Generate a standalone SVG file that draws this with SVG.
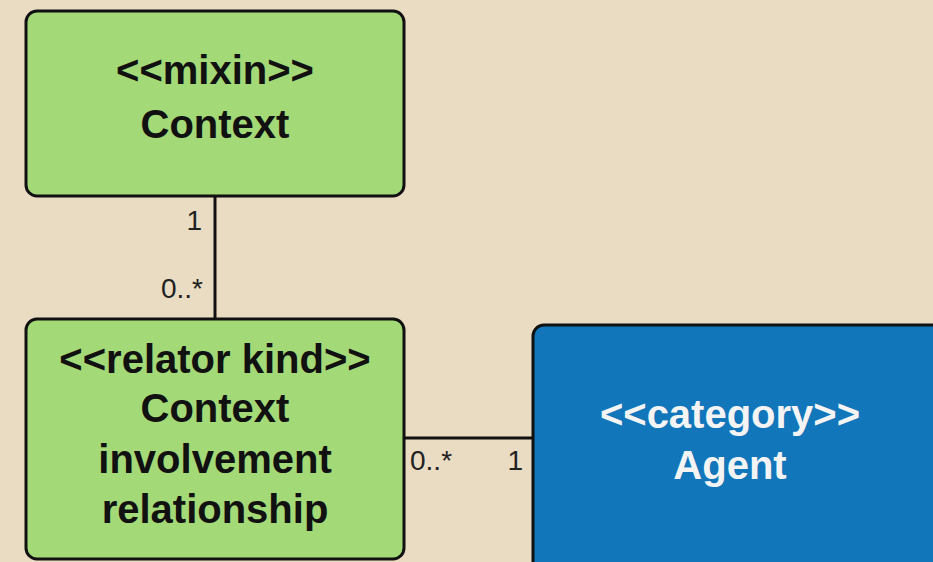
<svg xmlns="http://www.w3.org/2000/svg" width="933" height="562" viewBox="0 0 933 562">
<style>
.box{stroke:#111;stroke-width:3}
.green{fill:#A3D977}
.blue{fill:#1276BA}
.t{font-family:"Liberation Sans",Arial,sans-serif;font-weight:bold;font-size:40px;text-anchor:middle}
.dark{fill:#111}
.light{fill:#F4F4F4}
.m{font-family:"Liberation Sans",Arial,sans-serif;font-size:28px;fill:#222}
.c{stroke:#111;stroke-width:3;fill:none}
</style>
<rect width="933" height="562" fill="#E9DCC2"/>
<g id="connectors">
<line class="c" x1="215" y1="196" x2="215" y2="318"/>
<line class="c" x1="404" y1="438" x2="533" y2="438"/>
<text class="m" x="202" y="230" text-anchor="end">1</text>
<text class="m" x="203" y="298" text-anchor="end">0..*</text>
<text class="m" x="410" y="470">0..*</text>
<text class="m" x="523" y="470" text-anchor="end">1</text>
</g>
<g id="context">
<rect class="box green" x="26" y="11" width="378" height="185" rx="11"/>
<text class="t dark" x="215" y="84">&lt;&lt;mixin&gt;&gt;</text>
<text class="t dark" x="215" y="138">Context</text>
</g>
<g id="relator">
<rect class="box green" x="26" y="319" width="378" height="240" rx="11"/>
<text class="t dark" x="215" y="373">&lt;&lt;relator kind&gt;&gt;</text>
<text class="t dark" x="215" y="422">Context</text>
<text class="t dark" x="215" y="473">involvement</text>
<text class="t dark" x="215" y="523">relationship</text>
</g>
<g id="agent">
<rect class="box blue" x="533" y="325" width="420" height="260" rx="11"/>
<text class="t light" x="730" y="428">&lt;&lt;category&gt;&gt;</text>
<text class="t light" x="730" y="479">Agent</text>
</g>
</svg>
